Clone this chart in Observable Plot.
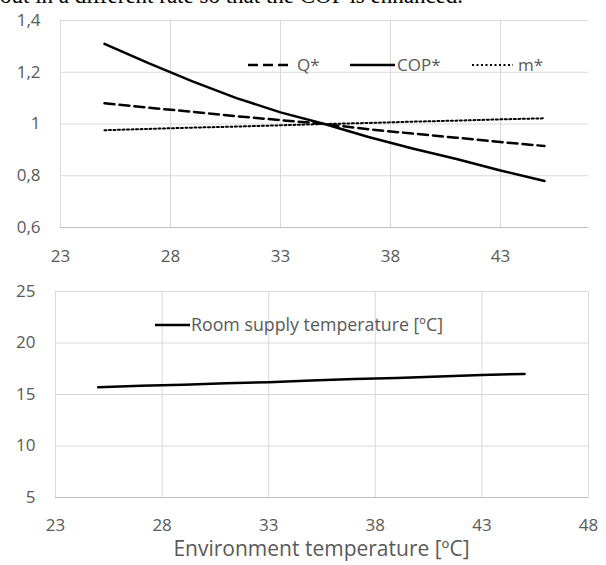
<!DOCTYPE html>
<html><head><meta charset="utf-8">
<script src="https://cdn.jsdelivr.net/npm/d3@7"></script>
<script src="https://cdn.jsdelivr.net/npm/@observablehq/plot@0.6"></script>
<style>
body{margin:0;background:#fff;}
#wrap{position:relative;width:606px;height:565px;overflow:hidden;background:#fff;}
#cap{position:absolute;left:0;top:-16px;font-family:"Liberation Serif","Times New Roman",serif;font-size:23px;white-space:nowrap;line-height:1;color:#000;}
#top{position:absolute;left:0;top:0;}
#bot{position:absolute;left:0;top:270px;}
#xtitle{position:absolute;left:55px;width:533px;top:540px;text-align:center;font-family:"Open Sans";font-size:21px;line-height:0.8;color:#595959;white-space:nowrap;}
#legend{position:absolute;left:0;top:0;pointer-events:none;}
</style>
</head><body>
<div id="wrap">
<div id="cap">out in a different rate so that the COP is enhanced.</div>
<div id="top"></div>
<div id="bot"></div>
<div id="xtitle"></div>
<svg id="legend" width="606" height="565"></svg>
</div>
<script>
// Data
const envTemp   = [25, 27, 29, 31, 33, 35, 37, 39, 41, 43, 45];
const qStar     = [1.08, 1.063, 1.047, 1.03, 1.015, 1.0, 0.98, 0.963, 0.947, 0.93, 0.915];
const copStar   = [1.31, 1.235, 1.165, 1.10, 1.045, 1.0, 0.95, 0.905, 0.865, 0.82, 0.78];
const mStar     = [0.976, 0.981, 0.986, 0.99, 0.995, 1.0, 1.004, 1.009, 1.013, 1.018, 1.022];
const supplyTemp = [15.7, 15.85, 15.95, 16.1, 16.2, 16.35, 16.5, 16.6, 16.75, 16.9, 17.0];

const topXTicks = [23, 28, 33, 38, 43];
const topYTicks = [0.6, 0.8, 1, 1.2, 1.4];
const botXTicks = [23, 28, 33, 38, 43, 48];
const botYTicks = [5, 10, 15, 20, 25];

const seriesNames = ["Q*", "COP*", "m*"];
const supplyName = "Room supply temperature [ºC]";
const xTitle = "Environment temperature [ºC]";

const topData = envTemp.map((t, i) => ({t, q: qStar[i], cop: copStar[i], m: mStar[i]}));
const botData = envTemp.map((t, i) => ({t, v: supplyTemp[i]}));

const grid = "#d9d9d9";
const axisCol = "#bfbfbf";
const txt = "#595959";
const fmt = d => String(d).replace(".", ",");

const topPlot = Plot.plot({
  width: 606, height: 270,
  marginLeft: 60, marginRight: 18, marginTop: 20, marginBottom: 43,
  x: {domain: [23, 47]},
  y: {domain: [0.6, 1.4]},
  style: {fontFamily: "Open Sans", fontSize: "17px", color: txt, background: "transparent"},
  marks: [
    Plot.gridX(topXTicks, {stroke: grid, strokeOpacity: 1}),
    Plot.gridY(topYTicks.filter(d => d > 0.6), {stroke: grid, strokeOpacity: 1}),
    Plot.ruleY([0.6], {stroke: axisCol}),
    Plot.axisX(topXTicks, {tickSize: 0, tickPadding: 22, tickFormat: d => String(d), label: null}),
    Plot.axisY(topYTicks, {tickSize: 0, tickPadding: 20, tickFormat: fmt, label: null}),
    Plot.line(topData, {x: "t", y: "m", stroke: "#000", strokeWidth: 2, strokeDasharray: "2,2.5"}),
    Plot.line(topData, {x: "t", y: "q", stroke: "#000", strokeWidth: 2.5, strokeDasharray: "10,5"}),
    Plot.line(topData, {x: "t", y: "cop", stroke: "#000", strokeWidth: 2.5})
  ]
});
document.getElementById("top").appendChild(topPlot);

const botPlot = Plot.plot({
  width: 606, height: 295,
  marginLeft: 55, marginRight: 18, marginTop: 21, marginBottom: 68,
  x: {domain: [23, 48]},
  y: {domain: [5, 25]},
  style: {fontFamily: "Open Sans", fontSize: "17px", color: txt, background: "transparent"},
  marks: [
    Plot.gridX(botXTicks, {stroke: grid, strokeOpacity: 1}),
    Plot.gridY(botYTicks.filter(d => d > 5), {stroke: grid, strokeOpacity: 1}),
    Plot.ruleY([5], {stroke: axisCol}),
    Plot.axisX(botXTicks, {tickSize: 0, tickPadding: 21, tickFormat: d => String(d), label: null}),
    Plot.axisY(botYTicks, {tickSize: 0, tickPadding: 20, tickFormat: d => String(d), label: null}),
    Plot.line(botData, {x: "t", y: "v", stroke: "#000", strokeWidth: 2.5})
  ]
});
document.getElementById("bot").appendChild(botPlot);

document.getElementById("xtitle").textContent = xTitle;

// Legends
const lg = d3.select("#legend");
const items = [
  {x1: 248, x2: 292, tx: 297, y: 65, dash: "10,5", w: 2.5, fs: 17, label: seriesNames[0]},
  {x1: 350, x2: 395, tx: 397, y: 65, dash: null, w: 2.5, fs: 17, label: seriesNames[1]},
  {x1: 472, x2: 513, tx: 518, y: 65, dash: "2,2.5", w: 2, fs: 17, label: seriesNames[2]},
  {x1: 155, x2: 190, tx: 191, y: 325, dash: null, w: 2.5, fs: 17.8, label: supplyName}
];
for (const it of items) {
  const l = lg.append("line").attr("x1", it.x1).attr("x2", it.x2).attr("y1", it.y).attr("y2", it.y)
    .attr("stroke", "#000").attr("stroke-width", it.w);
  if (it.dash) l.attr("stroke-dasharray", it.dash);
  lg.append("text").attr("x", it.tx).attr("y", it.y + 5.5)
    .attr("font-family", "Open Sans").attr("font-size", it.fs).attr("fill", txt).text(it.label);
}
</script>
</body></html>
